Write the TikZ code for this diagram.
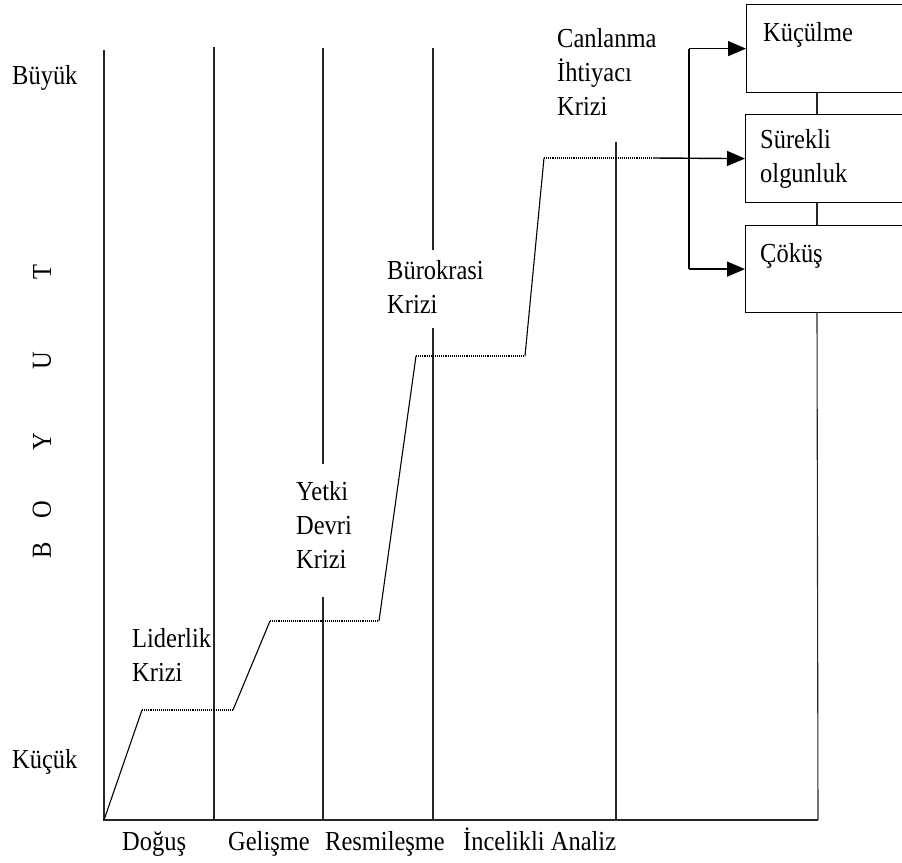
\documentclass[tikz,border=0pt]{standalone}
\usepackage{fontspec}
\setmainfont{Liberation Serif}[FakeStretch=0.89]
\usetikzlibrary{arrows.meta}
\begin{document}
\begin{tikzpicture}[x=1pt,y=-1pt,
  lbl/.style={anchor=base west, inner sep=0pt, font=\fontsize{27.5}{34}\selectfont},
  vlbl/.style={rotate=90, inner sep=0pt, font=\fontsize{27.5}{34}\selectfont},
  gridline/.style={line width=1.1pt, black!85},
  rise/.style={line width=1.1pt, black},
  dotline/.style={densely dotted, line width=1.1pt},
  arr/.style={-{Triangle[length=18pt,width=15pt]}, line width=1.4pt},
  stagebox/.style={draw, line width=1.2pt, minimum width=170pt, anchor=north west, inner sep=0pt}]
\useasboundingbox (0,0) rectangle (902,862);
\clip (0,0) rectangle (902,862);

% boxes
\node[stagebox, minimum height=88pt] (k) at (746,4) {};
\node[stagebox, minimum height=88pt] (s) at (745,114) {};
\node[stagebox, minimum height=87pt] (c) at (745,225) {};

% coordinates
\coordinate (o) at (104,820);
\coordinate (e) at (818,820);
\coordinate (bx) at (689,0);
\coordinate (cx) at (817,0);
\coordinate (g1t) at (104,50);
\coordinate (g2t) at (214,47);  \coordinate (g2b) at (214,820);
\coordinate (g3t) at (323,48);  \coordinate (g3m) at (323,464);
\coordinate (g3n) at (323,597); \coordinate (g3b) at (323,820);
\coordinate (g4t) at (433,48);  \coordinate (g4m) at (433,250);
\coordinate (g4n) at (433,328); \coordinate (g4b) at (433,820);
\coordinate (g5t) at (616,142); \coordinate (g5b) at (616,820);
\coordinate (p1) at (142,710);
\coordinate (p2) at (233,710);
\coordinate (p3) at (270,621);
\coordinate (p4) at (379,621);
\coordinate (p5) at (416,356);
\coordinate (p6) at (525,356);
\coordinate (p7) at (544,158);
\coordinate (p8) at (653,158);

% grid and axes
\draw[gridline] (g1t) -- (o) -- (e);
\draw[gridline] (g2t) -- (g2b);
\draw[gridline] (g3t) -- (g3m);
\draw[gridline] (g3n) -- (g3b);
\draw[gridline] (g4t) -- (g4m);
\draw[gridline] (g4n) -- (g4b);
\draw[gridline] (g5t) -- (g5b);
\draw[gridline] (k.south -| cx) -- (s.north -| cx);
\draw[gridline] (s.south -| cx) -- (c.north -| cx);
\draw[gridline] (c.south -| cx) -- (e);

% growth curve
\draw[rise] (o) -- (p1);
\draw[dotline] (p1) -- (p2);
\draw[rise] (p2) -- (p3);
\draw[dotline] (p3) -- (p4);
\draw[rise] (p4) -- (p5);
\draw[dotline] (p5) -- (p6);
\draw[rise] (p6) -- (p7);
\draw[dotline] (p7) -- (p8);
\draw[arr] (p8) -- (s.west);

% bracket arrows
\draw[line width=1.4pt] (k.west -| bx) -- (c.west -| bx);
\draw[arr] (k.west -| bx) -- (k.west);
\draw[arr] (c.west -| bx) -- (c.west);

% labels
\node[lbl] (buyuk) at (12,84) {Büyük};
\node[lbl] (kucuk) at (12,768) {Küçük};
\node[vlbl] (vB) at (42,550) {B};
\node[vlbl] (vO) at (42,510) {O};
\node[vlbl] (vY) at (42,442) {Y};
\node[vlbl] (vU) at (42,361) {U};
\node[vlbl] (vT) at (42,272) {T};

\node[lbl] (l1) at (132,647) {Liderlik};
\node[lbl] (l2) at (132,681) {Krizi};
\node[lbl] (y1) at (296,500) {Yetki};
\node[lbl] (y2) at (296,534) {Devri};
\node[lbl] (y3) at (296,568) {Krizi};
\node[lbl] (b1) at (387,279) {Bürokrasi};
\node[lbl] (b2) at (387,313) {Krizi};
\node[lbl] (c1) at (557,47) {Canlanma};
\node[lbl] (c2) at (557,81) {İhtiyacı};
\node[lbl] (c3) at (557,115) {Krizi};

\node[lbl] (kt) at (763,41) {Küçülme};
\node[lbl] (st1) at (760,148) {Sürekli};
\node[lbl] (st2) at (760,182) {olgunluk};
\node[lbl] (ct) at (760,262) {Çöküş};

\node[lbl] (x1) at (122,850) {Doğuş};
\node[lbl] (x2) at (228,850) {Gelişme};
\node[lbl] (x3) at (325,850) {Resmileşme};
\node[lbl] (x4) at (463,850) {İncelikli Analiz};
\end{tikzpicture}
\end{document}
